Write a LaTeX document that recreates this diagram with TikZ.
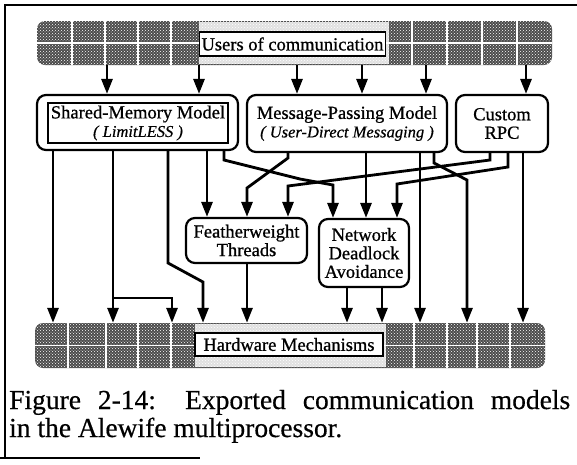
\documentclass[tikz,border=0pt]{standalone}
\usepackage{fontspec}
\setmainfont{Liberation Serif}
\newfontface\dfont{Liberation Serif}[FakeBold=0.8]
\newfontface\ditfont{Liberation Serif Italic}[FakeBold=0.6]
\newfontface\cfont{Liberation Serif}[FakeBold=0.5]
\usetikzlibrary{arrows.meta,patterns}
\newcommand{\itfont}{\fontsize{16.5}{17}\ditfont}
\begin{document}
\begin{tikzpicture}[x=1pt,y=-1pt,
  conn/.style={line width=2.8pt},
  arr/.style={conn,-{Triangle[length=15pt,width=11pt]}},
  boxtext/.style={font=\fontsize{18.5}{18.5}\dfont, align=center, inner sep=0pt},
  rbox/.style={draw, line width=2.2pt, rounded corners=9pt, boxtext},
  sbox/.style={draw, line width=1.8pt, boxtext},
  lbl/.style={draw, fill=white, line width=1.8pt, inner sep=0pt, font=\fontsize{18.5}{18.5}\dfont},
  band/.style={fill=black!70, rounded corners=8pt, inner sep=0pt},
  dotty/.style={pattern=crosshatch dots, pattern color=white},
  gapline/.style={white, line width=1.5pt},
  framel/.style={line width=1.6pt},
  captext/.style={font=\fontsize{27.5}{28}\cfont, inner sep=0pt, anchor=base west}]
\useasboundingbox (0,0) rectangle (577,464);

% frame
\draw[framel] (5,458) -- (5,5) -- (577,5);
\draw[framel] (0,458) -- (200,458);

% top band
\node[band, minimum width=515pt, minimum height=44pt] (ub) at (294.5,43) {};
\fill[black!12] (199,22) rectangle (389,64);
\foreach \x in {72,105,138,171,412,447,482,517} \draw[gapline] (\x,21) -- (\x,65);
\draw[gapline] (37,43) -- (552,43);
\fill[dotty, rounded corners=8pt] (ub.south west) rectangle (ub.north east);
\node[lbl, minimum width=186pt, minimum height=24pt] (ul) at (292.5,44) {Users of communication};

% bottom band
\node[band, minimum width=510pt, minimum height=45pt] (hb) at (290,345.5) {};
\fill[black!12] (195,324) rectangle (386,367);
\foreach \x in {68,106,138,171,414,447,477,510} \draw[gapline] (\x,323) -- (\x,368);
\draw[gapline] (35,345.5) -- (545,345.5);
\fill[dotty, rounded corners=8pt] (hb.south west) rectangle (hb.north east);
\node[lbl, minimum width=188pt, minimum height=23pt] (hl) at (289,344.5) {Hardware Mechanisms};

% model boxes
\node[rbox, minimum width=201pt, minimum height=55pt] (sm) at (137.5,122.5) {};
\node[sbox, minimum width=180pt, minimum height=40pt] (smi) at (138,123) {Shared-Memory Model\\{\itfont ( LimitLESS )}};
\node[rbox, minimum width=200pt, minimum height=57pt] (mp) at (347,123.5) {Message-Passing Model\\{\itfont ( User-Direct Messaging )}};
\node[rbox, minimum width=92pt, minimum height=57pt] (rpc) at (502,123.5) {Custom\\RPC};
\node[rbox, minimum width=121pt, minimum height=45pt] (fw) at (246.5,240.5) {Featherweight\\Threads};
\node[rbox, minimum width=90pt, minimum height=68pt] (nd) at (364,253) {Network\\Deadlock\\Avoidance};

% users -> models
\foreach \x in {107,199} \draw[arr] (ub.south -| \x,0) -- (sm.north -| \x,0);
\foreach \x in {297,362,426} \draw[arr] (ub.south -| \x,0) -- (mp.north -| \x,0);
\draw[arr] (ub.south -| 526,0) -- (rpc.north -| 526,0);

% shared memory
\draw[arr] (sm.south -| 53,0) -- (hb.north -| 53,0);
\draw[arr] (sm.south -| 113,0) -- (hb.north -| 113,0);
\coordinate (j1) at (113,298);
\draw[arr] (j1) -| (hb.north -| 172,0);
\draw[arr] (sm.south -| 168,0) -- (168,263) -- (203,282) -- (hb.north -| 203,0);
\draw[arr] (sm.south -| 207,0) -- (fw.north -| 207,0);
\draw[arr] (sm.south -| 224,0) -- (224,160) -- (300,179) -- (333,185) -- (nd.north -| 333,0);

% message passing
\draw[arr] (mp.south -| 288,0) -- (288,158) -- (247,188) -- (fw.north -| 247,0);
\draw[arr] (mp.south -| 366,0) -- (nd.north -| 366,0);
\draw[arr] (mp.south -| 420,0) -- (hb.north -| 420,0);
\draw[arr] (mp.south -| 434,0) -- (434,163) -- (467,180) -- (hb.north -| 467,0);

% custom rpc
\draw[arr] (rpc.south -| 490,0) -- (490,160) -- (288,186) -- (fw.north -| 288,0);
\draw[arr] (rpc.south -| 508,0) -- (508,167) -- (397,184) -- (nd.north -| 397,0);
\draw[arr] (rpc.south -| 523,0) -- (hb.north -| 523,0);

% mechanisms
\draw[arr] (fw.south -| 247,0) -- (hb.north -| 247,0);
\draw[arr] (nd.south -| 347,0) -- (hb.north -| 347,0);
\draw[arr] (nd.south -| 382,0) -- (hb.north -| 382,0);

% caption
\node[captext] (c1) at (9,409) {\makebox[561pt][s]{Figure 2-14: Exported communication models}};
\node[captext] (c2) at (9,437) {in the Alewife multiprocessor.};
\end{tikzpicture}
\end{document}
